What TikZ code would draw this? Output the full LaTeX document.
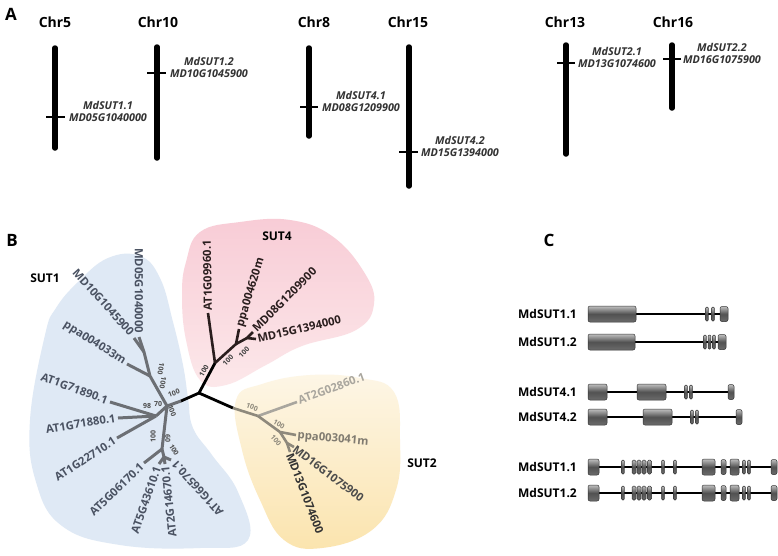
\documentclass[tikz,border=0pt]{standalone}
\usepackage{fontspec}
\setmainfont{Open Sans}
\definecolor{blueBG}{HTML}{DFE9F5}
\definecolor{pinkTop}{HTML}{F8CCD6}
\definecolor{pinkBot}{HTML}{FCE8EA}
\definecolor{yelTop}{HTML}{FDF6E6}
\definecolor{yelBot}{HTML}{FBE4AE}
\definecolor{cOne}{HTML}{6C6F74}
\definecolor{tOne}{HTML}{4A5262}
\definecolor{cFour}{HTML}{2A1E1E}
\definecolor{cTwo}{HTML}{8E897C}
\definecolor{cTwoL}{HTML}{A9A69E}
\begin{document}
\begin{tikzpicture}[x=1pt,y=-1pt,
  chrbar/.style={line width=5.5pt, line cap=round},
  chrtick/.style={line width=1.4pt},
  chrlab/.style={font=\bfseries\fontsize{14}{14}\selectfont, inner sep=0pt},
  genelab/.style={font=\bfseries\itshape\fontsize{10.8}{12}\selectfont, text=black!80, align=center, inner sep=0pt},
  paneltitle/.style={font=\bfseries\fontsize{17}{17}\selectfont, inner sep=0pt},
  cladelab/.style={font=\bfseries\fontsize{12}{12}\selectfont, inner sep=0pt},
  leaf/.style={font=\bfseries\fontsize{11.3}{11.3}\selectfont, inner sep=1.5pt},
  boot/.style={font=\bfseries\fontsize{7}{7}\selectfont, inner sep=0pt},
  brone/.style={draw=cOne, line width=3pt},
  brfour/.style={draw=cFour, line width=2.6pt},
  brtwo/.style={draw=cTwo, line width=2.6pt},
  brblack/.style={draw=black, line width=2.8pt},
  exon/.style={draw=black!80, line width=0.5pt, rounded corners=2pt, top color=black!25, bottom color=black!58, middle color=black!68},
  intron/.style={line width=2.2pt},
  rowlab/.style={font=\bfseries\fontsize{12}{12}\selectfont, inner sep=0pt, anchor=east}
]
\useasboundingbox (0,0) rectangle (778,555);
\fill[white] (0,0) rectangle (778,555);

% ---------------- Panel A ----------------
\node[paneltitle] (titA) at (11,14) {A};
\foreach \nm/\x/\ytop/\ybot in {c5/55/48/148, c10/157/47/158, c8/309/48/136, c15/409/47/186, c13/566/45/154, c16/672/45/108}{
  \coordinate (\nm top) at (\x,\ytop);
  \coordinate (\nm bot) at (\x,\ybot);
  \draw[chrbar] (\nm top) -- (\nm bot);
}
\node[chrlab] (lc5) at (55,22) {Chr5};
\node[chrlab] (lc10) at (158,22) {Chr10};
\node[chrlab] (lc8) at (314,22) {Chr8};
\node[chrlab] (lc15) at (408,22) {Chr15};
\node[chrlab] (lc13) at (565,22) {Chr13};
\node[chrlab] (lc16) at (673,22) {Chr16};

\coordinate (k5a) at (46,117); \coordinate (k5b) at (65,117);
\coordinate (k10a) at (147,73); \coordinate (k10b) at (166,73);
\coordinate (k8a) at (300,107); \coordinate (k8b) at (318,107);
\coordinate (k15a) at (399,152); \coordinate (k15b) at (418,152);
\coordinate (k13a) at (557,63); \coordinate (k13b) at (575,63);
\coordinate (k16a) at (663,59); \coordinate (k16b) at (681,59);
\foreach \k in {5,10,8,15,13,16}{ \draw[chrtick] (k\k a) -- (k\k b); }

\node[genelab] (g11) at (108,111.5) {MdSUT1.1\\MD05G1040000};
\node[genelab] (g12) at (209,67) {MdSUT1.2\\MD10G1045900};
\node[genelab] (g41) at (361,101) {MdSUT4.1\\MD08G1209900};
\node[genelab] (g42) at (460,146) {MdSUT4.2\\MD15G1394000};
\node[genelab] (g21) at (617,57) {MdSUT2.1\\MD13G1074600};
\node[genelab] (g22) at (722,53) {MdSUT2.2\\MD16G1075900};

% ---------------- Panel B ----------------
\node[paneltitle] (titB) at (12,240) {B};

% background blobs
\fill[blueBG] plot[smooth cycle, tension=0.7] coordinates {(45,335) (30,420) (36,482) (62,526) (120,545) (200,548) (248,540) (238,492) (212,455) (193,428) (188,398) (183,365) (173,322) (160,278) (140,256) (108,258) (78,282) (56,308)};
\shade[top color=pinkTop, bottom color=pinkBot] plot[smooth cycle, tension=0.7] coordinates {(186,262) (200,232) (240,222) (290,220) (332,236) (364,272) (374,304) (356,330) (302,346) (266,365) (226,385) (200,380) (186,340) (182,295)};
\shade[top color=yelTop, bottom color=yelBot] plot[smooth cycle, tension=0.7] coordinates {(236,400) (262,384) (310,375) (360,378) (394,392) (400,440) (396,490) (372,530) (322,548) (284,540) (260,500) (242,450)};

\node[cladelab] (cl1) at (45,278) {SUT1};
\node[cladelab] (cl4) at (277,236) {SUT4};
\node[cladelab] (cl2) at (422,463) {SUT2};

% tree coordinates
\coordinate (R) at (199,393);
\coordinate (J1) at (181,401);
\coordinate (J2) at (233,408);
\coordinate (N1) at (167,406);
\coordinate (N2) at (150,376);
\coordinate (N3) at (144,352);
\coordinate (l05) at (139,337);
\coordinate (l10) at (134,338);
\coordinate (lp1) at (127,364);
\coordinate (N4) at (156,416);
\coordinate (l890) at (110,402);
\coordinate (l880) at (118,418);
\coordinate (l710) at (117,438);
\coordinate (D) at (162,449);
\coordinate (l170) at (144,463);
\coordinate (E) at (164,457);
\coordinate (l610) at (159,464);
\coordinate (l670) at (165,464);
\coordinate (l570) at (171,460);
% SUT4
\coordinate (A) at (215,363);
\coordinate (l960) at (208,313);
\coordinate (B4) at (236,344);
\coordinate (lp4) at (239,329);
\coordinate (C4) at (247,338);
\coordinate (l08) at (253,332);
\coordinate (l15) at (256,339);
% SUT2
\coordinate (S) at (258,416);
\coordinate (l860) at (297,402);
\coordinate (T) at (280,432);
\coordinate (lp2) at (296,435);
\coordinate (U) at (287,443);
\coordinate (l16) at (294,447);
\coordinate (l13) at (290,452);

% branches
\draw[brblack, line cap=round] (J1) -- (R) -- (A);
\draw[brblack] (R) -- (J2);
\draw[brone] (J1) -- (N1);
\draw[brone] (N1) -- (N2) -- (N3) -- (l05);
\draw[brone] (N3) -- (l10);
\draw[brone] (N2) -- (lp1);
\draw[brone] (N1) -- (N4);
\draw[brone] (N4) -- (l890);
\draw[brone] (N4) -- (l880);
\draw[brone] (N4) -- (l710);
\draw[brone] (N1) -- (D);
\draw[brone] (D) -- (l170);
\draw[brone] (D) -- (E);
\draw[brone] (E) -- (l610);
\draw[brone] (E) -- (l670);
\draw[brone] (E) -- (l570);
\draw[brfour] (A) -- (l960);
\draw[brfour] (A) -- (B4) -- (lp4);
\draw[brfour] (B4) -- (C4) -- (l08);
\draw[brfour] (C4) -- (l15);
\draw[brtwo] (J2) -- (S);
\draw[brtwo, draw=cTwoL] (S) -- (l860);
\draw[brtwo] (S) -- (T) -- (lp2);
\draw[brtwo] (T) -- (U) -- (l16);
\draw[brtwo] (U) -- (l13);

% leaf labels SUT1
\node[leaf, text=tOne, anchor=east, rotate=-90] (tx05) at (139,335) {MD05G1040000};
\node[leaf, text=tOne, anchor=east, rotate=-48] (tx10) at (133,335) {MD10G1045900};
\node[leaf, text=tOne, anchor=east, rotate=-32] (txp1) at (126,363) {ppa004033m};
\node[leaf, text=tOne, anchor=east, rotate=-20] (tx890) at (109,401) {AT1G71890.1};
\node[leaf, text=tOne, anchor=east, rotate=9] (tx880) at (117,418) {AT1G71880.1};
\node[leaf, text=tOne, anchor=east, rotate=33] (tx710) at (116,439) {AT1G22710.1};
\node[leaf, text=tOne, anchor=east, rotate=44] (tx170) at (143,464) {AT5G06170.1};
\node[leaf, text=tOne, anchor=east, rotate=71] (tx610) at (158,465) {AT5G43610.1};
\node[leaf, text=tOne, anchor=east, rotate=96] (tx670) at (165,465) {AT2G14670.1};
\node[leaf, text=tOne, anchor=east, rotate=132] (tx570) at (173,461) {AT1G66570.1};
% leaf labels SUT4
\node[leaf, text=cFour, anchor=west, rotate=91] (tx960) at (208,312) {AT1G09960.1};
\node[leaf, text=cFour, anchor=west, rotate=73] (txp4) at (240,328) {ppa004620m};
\node[leaf, text=cFour, anchor=west, rotate=45] (tx08) at (253,331) {MD08G1209900};
\node[leaf, text=cFour, anchor=west, rotate=13] (tx15) at (256,339) {MD15G1394000};
% leaf labels SUT2
\node[leaf, text=cTwoL, anchor=west, rotate=20] (tx860) at (297,401) {AT2G02860.1};
\node[leaf, text=cTwo!90!black, anchor=west, rotate=-5] (txp2) at (296,436) {ppa003041m};
\node[leaf, text=black!70, anchor=west, rotate=-37] (tx16) at (293,447) {MD16G1075900};
\node[leaf, text=black!80, anchor=west, rotate=-69] (tx13) at (289,452) {MD13G1074600};

% bootstrap values
\node[boot, text=black!70, rotate=20] (b1) at (174,393) {100};
\node[boot, text=black!70, rotate=-100] (b2) at (161,369) {100};
\node[boot, text=black!70, rotate=-100] (b3) at (163,383) {100};
\node[boot, text=black!70] (b4) at (147,406) {98};
\node[boot, text=black!70] (b5) at (158,404) {70};
\node[boot, text=black!70, rotate=-70] (b6) at (172,411) {100};
\node[boot, text=black!70, rotate=90] (b7) at (153,436) {100};
\node[boot, text=black!70, rotate=-90] (b8) at (168,438) {60};
\node[boot, text=black!70, rotate=-60] (b9) at (174,450) {100};
\node[boot, text=black!75, rotate=60] (b10) at (204,371) {100};
\node[boot, text=black!75, rotate=45] (b11) at (228,360) {100};
\node[boot, text=black!75, rotate=45] (b12) at (244,352) {100};
\node[boot, text=cTwo, rotate=-20] (b13) at (252,407) {100};
\node[boot, text=cTwo, rotate=-30] (b14) at (279,424) {100};
\node[boot, text=cTwo, rotate=-50] (b15) at (276,440) {100};

% ---------------- Panel C ----------------
\node[paneltitle] (titC) at (549,240) {C};
\node[rowlab] (r1) at (577,314) {MdSUT1.1};
\node[rowlab] (r2) at (577,342) {MdSUT1.2};
\node[rowlab] (r3) at (577,392) {MdSUT4.1};
\node[rowlab] (r4) at (577,417) {MdSUT4.2};
\node[rowlab] (r5) at (577,467) {MdSUT1.1};
\node[rowlab] (r6) at (577,493) {MdSUT1.2};

% row 1
\draw[intron] (630,314) -- (725,314);
\draw[exon] (588,306) rectangle (636,322);
\foreach \b in {707,713} {\draw[exon, rounded corners=1pt] (\b-1.3,307) rectangle (\b+1.3,321);}
\draw[exon] (720,306.5) rectangle (728,321.5);
% row 2
\draw[intron] (630,342) -- (722,342);
\draw[exon] (588,334) rectangle (635,350);
\foreach \b in {705,709.5,714} {\draw[exon, rounded corners=1pt] (\b-1.3,335) rectangle (\b+1.3,349);}
\draw[exon] (718,334.5) rectangle (726,349.5);
% row 3
\draw[intron] (600,392) -- (732,392);
\draw[exon] (588,384) rectangle (607,400);
\draw[exon] (637,384) rectangle (666,400);
\foreach \b in {686,691} {\draw[exon, rounded corners=1pt] (\b-1.3,385) rectangle (\b+1.3,399);}
\draw[exon] (728,384.5) rectangle (734,399.5);
% row 4
\draw[intron] (600,417) -- (740,417);
\draw[exon] (588,409) rectangle (607,425);
\draw[exon] (643,409) rectangle (672,425);
\foreach \b in {692,697} {\draw[exon, rounded corners=1pt] (\b-1.3,410) rectangle (\b+1.3,424);}
\draw[exon] (736,409.5) rectangle (742,424.5);
% rows 5 and 6
\foreach \y in {467,493}{
  \draw[intron] (594,\y) -- (774,\y);
  \draw[exon] (588,\y-8) rectangle (599,\y+8);
  \foreach \b in {623,663,675,744,749} {\draw[exon, rounded corners=1pt] (\b-1.3,\y-7) rectangle (\b+1.3,\y+7);}
  \foreach \b in {634,639,644,649.5} {\draw[exon, rounded corners=1.5pt] (\b-2,\y-7) rectangle (\b+2,\y+7);}
  \draw[exon] (702,\y-8) rectangle (715,\y+8);
  \draw[exon] (721,\y-7.5) rectangle (726,\y+7.5);
  \draw[exon] (730,\y-8) rectangle (739,\y+8);
  \draw[exon] (771,\y-7.5) rectangle (777,\y+7.5);
}
\end{tikzpicture}
\end{document}
